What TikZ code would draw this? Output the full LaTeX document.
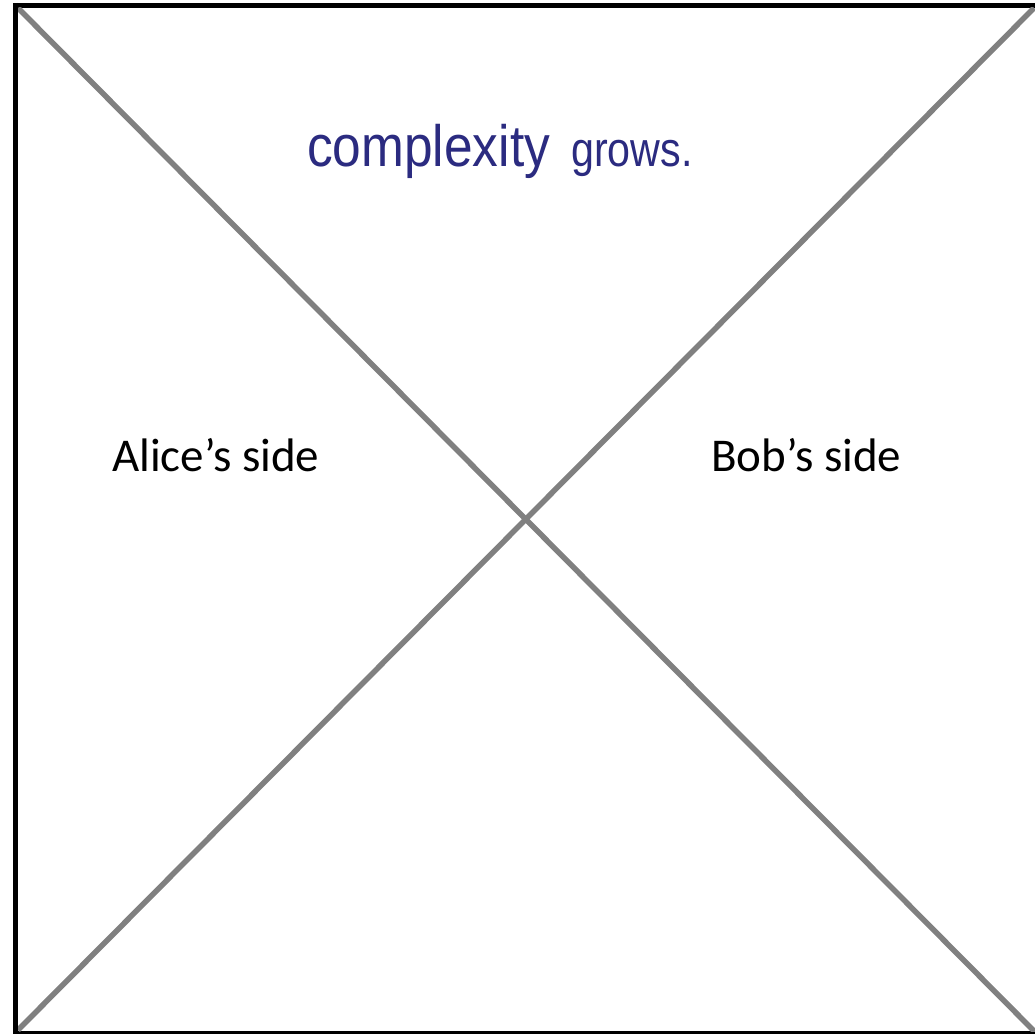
\documentclass[tikz,border=0pt]{standalone}
\usepackage{fontspec}
\usepackage{graphicx}
\setmainfont{Carlito}
\newfontfamily\arialfont{Liberation Sans}
\definecolor{titleblue}{RGB}{43,43,128}
\definecolor{diaggray}{RGB}{128,128,128}
\tikzset{
  frameline/.style={draw=black, line width=5.5pt},
  diagline/.style={draw=diaggray, line width=5.5pt, line cap=butt},
  sidelabel/.style={anchor=base west, inner sep=0pt, font=\fontsize{47}{50}\selectfont, text=black},
  titlelabel/.style={anchor=base west, inner sep=0pt, text=titleblue}
}
\begin{document}
\begin{tikzpicture}[x=1pt, y=-1pt]
  \path[use as bounding box, fill=white] (0,0) rectangle (1035,1033);
  % frame (left, top, bottom; no right side)
  \draw[frameline] (15.5,5.5) -- (1035,5.5);
  \draw[frameline] (15.5,3) -- (15.5,1033);
  \draw[draw=black, line width=3.5pt] (13,1032.5) -- (1035,1032.5);
  % corners
  \coordinate (tl) at (18,8);
  \coordinate (tr) at (1034,8);
  \coordinate (bl) at (18,1030);
  \coordinate (br) at (1035,1032);
  \begin{scope}
    \clip (18,8) rectangle (1035,1031);
    \draw[diagline] (tl) -- (br);
    \draw[diagline] (bl) -- (tr);
  \end{scope}
  % texts
  \node[titlelabel] (cx) at (307,166) {\scalebox{0.97}[1.1]{\arialfont\fontsize{53}{56}\selectfont complexity}};
  \node[titlelabel] (gr) at (571,166) {\scalebox{0.97}[1.15]{\arialfont\fontsize{42.5}{45}\selectfont grows.}};
  \node[sidelabel] (alice) at (112,471) {Alice’s side};
  \node[sidelabel] (bob) at (711,471) {Bob’s side};
\end{tikzpicture}
\end{document}
